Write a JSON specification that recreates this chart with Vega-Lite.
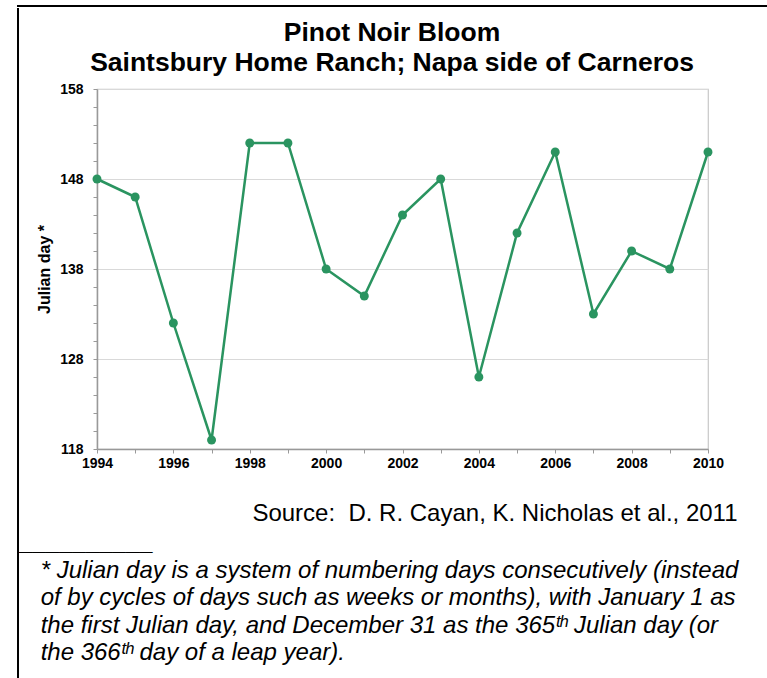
{
  "$schema": "https://vega.github.io/schema/vega-lite/v6.json",
  "background": "white",
  "padding": {"left": 17, "top": 5, "right": 0, "bottom": 0},
  "config": {
    "font": "Liberation Sans",
    "view": {"stroke": "#c8c8c8", "strokeWidth": 1.2}
  },
  "spacing": 0,
  "vconcat": [
    {
      "width": 749,
      "height": 0.01,
      "view": {"stroke": "#000000", "strokeWidth": 2},
      "data": {"values": []},
      "mark": "point"
    },
    {
      "spacing": 0,
      "hconcat": [
        {
          "width": 0.01,
          "height": 672,
          "view": {"stroke": "#000000", "strokeWidth": 2},
          "data": {"values": []},
          "mark": "point"
        },
        {
          "spacing": 4,
          "vconcat": [
            {
              "width": 612,
              "height": 0.01,
              "view": {"stroke": null},
              "data": {"values": []},
              "mark": "point",
              "title": {
                "text": ["Pinot Noir Bloom", "Saintsbury Home Ranch; Napa side of Carneros"],
                "orient": "bottom",
                "frame": "group",
                "fontSize": 26.5,
                "fontWeight": "bold",
                "lineHeight": 30,
                "anchor": "middle",
                "color": "#000000",
                "offset": 11,
                "dx": -11
              }
            },
            {
              "width": 611,
              "height": 360,
              "title": {
                "text": [
                  "__________",
                  "\u200b\u00a0\u00a0\u00a0* Julian day is a system of numbering days consecutively (instead",
                  "\u200b\u00a0\u00a0\u00a0of by cycles of days such as weeks or months), with January 1 as",
                  "\u200b\u00a0\u00a0\u00a0the first Julian day, and December 31 as the 365\u1d57\u02b0 Julian day (or",
                  "\u200b\u00a0\u00a0\u00a0the 366\u1d57\u02b0 day of a leap year)."
                ],
                "orient": "bottom",
                "anchor": "start",
                "fontStyle": "italic",
                "fontWeight": "normal",
                "fontSize": 24,
                "lineHeight": 27.5,
                "color": "#000000",
                "dx": -16,
                "offset": 6
              },
              "data": {
                "values": [
                  {"year": 1994, "day": 148},
                  {"year": 1995, "day": 146},
                  {"year": 1996, "day": 132},
                  {"year": 1997, "day": 119},
                  {"year": 1998, "day": 152},
                  {"year": 1999, "day": 152},
                  {"year": 2000, "day": 138},
                  {"year": 2001, "day": 135},
                  {"year": 2002, "day": 144},
                  {"year": 2003, "day": 148},
                  {"year": 2004, "day": 126},
                  {"year": 2005, "day": 142},
                  {"year": 2006, "day": 151},
                  {"year": 2007, "day": 133},
                  {"year": 2008, "day": 140},
                  {"year": 2009, "day": 138},
                  {"year": 2010, "day": 151}
                ]
              },
              "encoding": {
                "x": {
                  "field": "year",
                  "type": "quantitative",
                  "scale": {"domain": [1994, 2010], "nice": false, "zero": false},
                  "axis": {
                    "values": [1994, 1995, 1996, 1997, 1998, 1999, 2000, 2001, 2002, 2003, 2004, 2005, 2006, 2007, 2008, 2009, 2010],
                    "format": "d",
                    "labelExpr": "datum.value % 2 == 0 ? datum.label : ''",
                    "labelFlush": false,
                    "grid": false,
                    "domainColor": "#999999",
                    "domainWidth": 1.5,
                    "tickColor": "#999999",
                    "tickSize": 4,
                    "labelFontSize": 14,
                    "labelFontWeight": "bold",
                    "labelColor": "#000000",
                    "labelPadding": 3,
                    "labelOverlap": false,
                    "title": "Source:\u00a0 D. R. Cayan, K. Nicholas et al., 2011",
                    "titleFontSize": 24,
                    "titleFontWeight": "normal",
                    "titleColor": "#000000",
                    "titleAlign": "right",
                    "titleAnchor": "end",
                    "titleX": 640,
                    "titleY": 71,
                    "titleBaseline": "alphabetic"
                  }
                },
                "y": {
                  "field": "day",
                  "type": "quantitative",
                  "scale": {"domain": [118, 158], "nice": false, "zero": false},
                  "axis": {
                    "values": [118, 120, 122, 124, 126, 128, 130, 132, 134, 136, 138, 140, 142, 144, 146, 148, 150, 152, 154, 156, 158],
                    "labelExpr": "(datum.value - 118) % 10 == 0 ? datum.label : ''",
                    "gridColor": "#d9d9d9",
                    "gridOpacity": {"condition": {"test": "(datum.value - 118) % 10 == 0", "value": 1}, "value": 0},
                    "domainColor": "#999999",
                    "domainWidth": 1.5,
                    "tickColor": "#999999",
                    "tickSize": 4,
                    "labelFontSize": 14,
                    "labelFontWeight": "bold",
                    "labelColor": "#000000",
                    "labelPadding": 10,
                    "labelOverlap": false,
                    "title": "Julian day *",
                    "titleFontSize": 16,
                    "titleFontWeight": "bold",
                    "titleColor": "#000000",
                    "titlePadding": 7
                  }
                }
              },
              "layer": [
                {"mark": {"type": "line", "color": "#2a9460", "strokeWidth": 2.5}},
                {"mark": {"type": "point", "filled": true, "size": 80, "color": "#2a9460", "opacity": 1}}
              ]
            }
          ]
        }
      ]
    }
  ]
}
